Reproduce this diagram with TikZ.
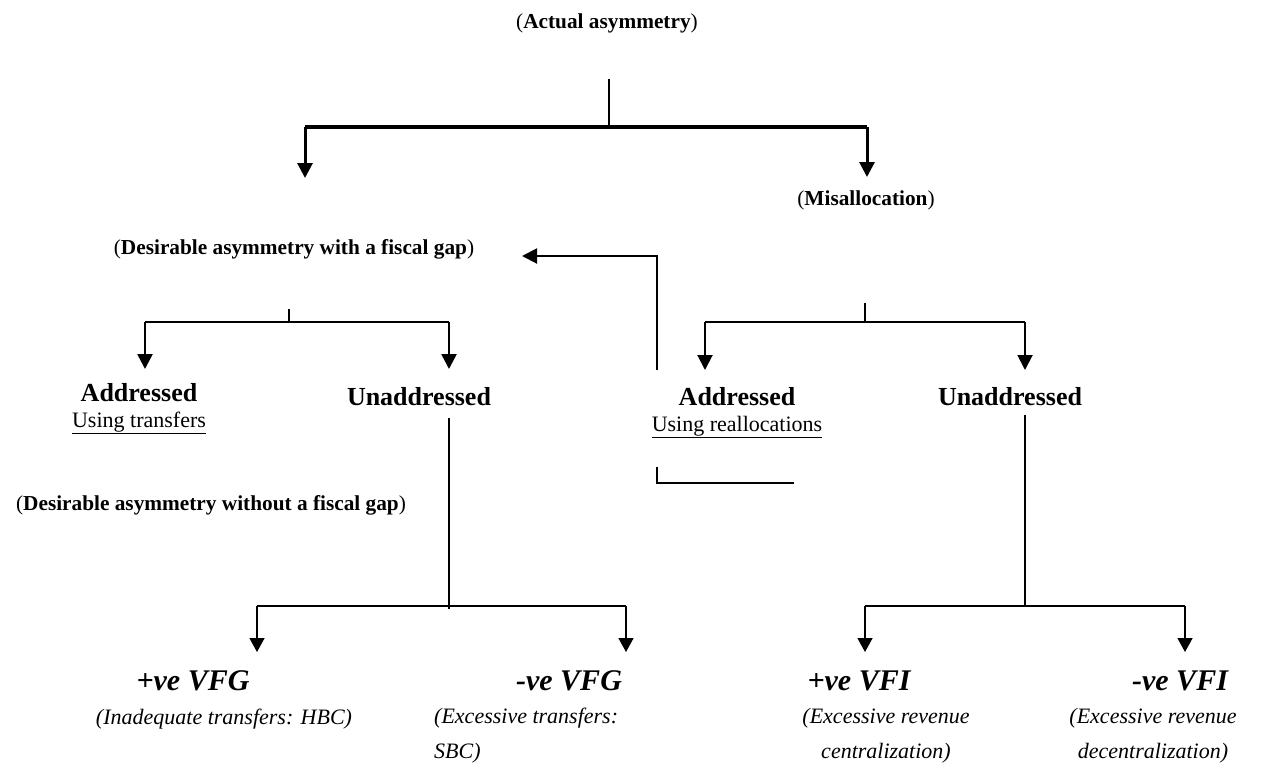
\documentclass[tikz,border=0pt]{standalone}
\usepackage{fontspec}
\setmainfont{Liberation Serif}
\usetikzlibrary{arrows.meta}
\tikzset{
  head/.style={font=\fontsize{21.3}{25}\selectfont\bfseries, inner sep=0pt},
  lab/.style={font=\fontsize{26}{30}\selectfont\bfseries, inner sep=0pt},
  sub/.style={font=\fontsize{22}{26}\selectfont, inner sep=0pt},
  res/.style={font=\fontsize{30}{34}\selectfont\bfseries\itshape, inner sep=0pt},
  expl/.style={font=\fontsize{22}{35}\selectfont\itshape, inner sep=0pt},
  arr/.style={line width=2.5pt, -{Triangle[width=15pt,length=15pt]}},
  arrb/.style={line width=1.6pt, -{Triangle[width=15pt,length=14pt]}},
}
\newcommand{\lp}{\textnormal{(}}
\newcommand{\rp}{\textnormal{)}}
\begin{document}
\begin{tikzpicture}[x=1pt,y=-1pt]
\useasboundingbox (0,0) rectangle (1281,764);
% texts
\node[head] (act) at (607,23) {\lp Actual asymmetry\rp};
\node[head] (mis) at (866,200) {\lp Misallocation\rp};
\node[head] (dwg) at (294,249) {\lp Desirable asymmetry with a fiscal gap\rp};
\node[head] (dwo) at (211,505) {\lp Desirable asymmetry without a fiscal gap\rp};
\node[lab] (add1) at (139,393) {Addressed};
\node[sub] (use1) at (139,423) {\underline{Using transfers}};
\node[lab] (una1) at (419,397) {Unaddressed};
\node[lab] (add2) at (737,397) {Addressed};
\node[sub] (use2) at (737,427) {\underline{Using reallocations}};
\node[lab] (una2) at (1010,397) {Unaddressed};
\node[res] (pvfg) at (193,681) {+ve VFG};
\node[expl] (pvfgx) at (224,719) {(Inadequate transfers: HBC)};
\node[res] (nvfg) at (569,681) {-ve VFG};
\node[expl, align=left, anchor=north west] (nvfgx) at (434,708) {(Excessive transfers:\\SBC)};
\node[res] (pvfi) at (859,681) {+ve VFI};
\node[expl, align=center, anchor=north] (pvfix) at (886,708) {(Excessive revenue\\centralization)};
\node[res] (nvfi) at (1180,681) {-ve VFI};
\node[expl, align=center, anchor=north] (nvfix) at (1153,708) {(Excessive revenue\\decentralization)};
% coordinates
\coordinate (t0) at (609,79);
\coordinate (t1) at (609,127);
\coordinate (tL) at (305,127);
\coordinate (tR) at (867,127);
\coordinate (tLe) at (305,178);
\coordinate (tRe) at (867,177);
\coordinate (f0) at (657,370);
\coordinate (f1) at (657,256);
\coordinate (f2) at (522,256);
\coordinate (g0) at (657,467);
\coordinate (g1) at (657,483);
\coordinate (g2) at (794,483);
\coordinate (a0) at (289,309);
\coordinate (a1) at (289,322);
\coordinate (aL) at (145,322);
\coordinate (aR) at (449,322);
\coordinate (aLe) at (145,369);
\coordinate (aRe) at (449,369);
\coordinate (b0) at (865,303);
\coordinate (b1) at (865,322);
\coordinate (bL) at (705,322);
\coordinate (bR) at (1025,322);
\coordinate (bLe) at (705,370);
\coordinate (bRe) at (1025,370);
\coordinate (c0) at (449,418);
\coordinate (c1) at (449,609);
\coordinate (cL) at (257,606);
\coordinate (cR) at (626,606);
\coordinate (cLe) at (257,652);
\coordinate (cRe) at (626,652);
\coordinate (d0) at (1025,415);
\coordinate (d1) at (1025,606);
\coordinate (dL) at (865,606);
\coordinate (dR) at (1185,606);
\coordinate (dLe) at (865,652);
\coordinate (dRe) at (1185,652);
% top tree
\draw[line width=2pt] (t0) -- (t1);
\draw[line width=4.5pt] (tL) -- (tR);
\draw[arr, line width=3pt] (tL) -- (tLe);
\draw[arr, line width=3pt] (tR) -- (tRe);
% feedback arrow
\draw[arr, line width=2pt] (f0) -- (f1) -- (f2);
\draw[line width=2.5pt] (g0) -- (g1) -- (g2);
% left subtree
\draw[line width=2pt] (a0) -- (a1);
\draw[line width=2.5pt] (aL) -- (aR);
\draw[arr] (aL) -- (aLe);
\draw[arr] (aR) -- (aRe);
% right subtree
\draw[line width=2pt] (b0) -- (b1);
\draw[line width=2pt] (bL) -- (bR);
\draw[arr, line width=2pt] (bL) -- (bLe);
\draw[arr, line width=2pt] (bR) -- (bRe);
% bottom left
\draw[line width=1.6pt] (c0) -- (c1);
\draw[line width=1.6pt] (cL) -- (cR);
\draw[arrb] (cL) -- (cLe);
\draw[arrb] (cR) -- (cRe);
% bottom right
\draw[line width=1.6pt] (d0) -- (d1);
\draw[line width=1.6pt] (dL) -- (dR);
\draw[arrb] (dL) -- (dLe);
\draw[arrb] (dR) -- (dRe);
\end{tikzpicture}
\end{document}
